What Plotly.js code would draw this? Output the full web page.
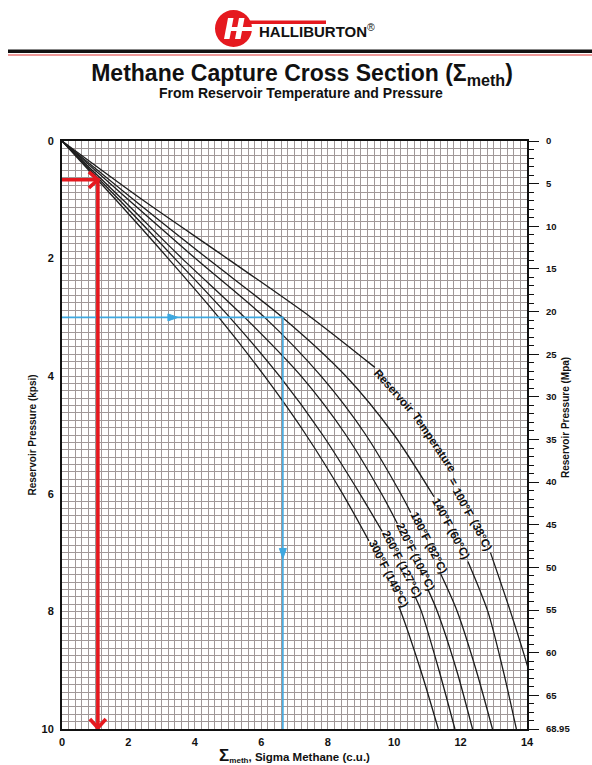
<!DOCTYPE html>
<html><head><meta charset="utf-8">
<script src="https://cdn.plot.ly/plotly-3.0.1.min.js"></script>
<style>html,body{margin:0;padding:0;background:#fff}#chart{width:592px;height:765px}</style>
</head><body><div id="chart"></div>
<script>
// ---- Data: pressure (kpsi) and Σmeth (c.u.) along each curve.
// null = the break in the curve where its label is written.
const p100 = [0, 1, 2, 3, 3.85, null, 7.0, 8, 9, 10];
const s100 = [0, 2.42, 4.98, 7.5, 9.42, null, 12.9, 13.5, 14.05, 14.5];
const p140 = [0, 1, 2, 3, 4, 5, 6.05, null, 7.15, 8, 9, 10];
const s140 = [0, 2.16, 4.38, 6.64, 8.55, 10.0, 11.2, null, 12.22, 12.82, 13.28, 13.68];
const p180 = [0, 1, 2, 3, 4, 5, 6, 6.32, null, 7.36, 8, 9, 10];
const s180 = [0, 2.0, 4.02, 6.1, 7.8, 9.15, 10.2, 10.5, null, 11.4, 11.9, 12.47, 12.96];
const p220 = [0, 1, 2, 3, 4, 5, 6, 6.51, null, 7.63, 8, 9, 10];
const s220 = [0, 1.83, 3.62, 5.5, 7.2, 8.55, 9.62, 10.1, null, 11.02, 11.3, 11.88, 12.36];
const p260 = [0, 1, 2, 3, 4, 5, 6, 6.64, null, 7.76, 8, 9, 10];
const s260 = [0, 1.72, 3.4, 5.05, 6.55, 7.85, 8.97, 9.64, null, 10.64, 10.82, 11.35, 11.83];
const p300 = [0, 1, 2, 3, 4, 5, 6, 6.8, null, 7.92, 8, 9, 10];
const s300 = [0, 1.62, 3.2, 4.72, 6.1, 7.35, 8.45, 9.24, null, 10.14, 10.2, 10.8, 11.33];

const curveLabels = ["140°F (60°C)", "180°F (82°C)", "220°F (104°C)", "260°F (127°C)", "300°F (149°C)"];
const refLabelWords = ["Reservoir", "Temperature", "=", "100°F", "(38°C)"];

// worked examples (red and blue guide lines)
const redX = [-0.12, 1.08, 1.08];
const redY = [0.66, 0.66, 10];
const blueX = [0, 6.65, 6.65];
const blueY = [3, 3, 10];
const blueArrowX = [3.49, 6.65];
const blueArrowY = [3, 7.1];

// axis ticks
const xTicks = [0, 2, 4, 6, 8, 10, 12, 14];
const kpsiTicks = [0, 2, 4, 6, 8, 10];
const mpaTicks = [0, 5, 10, 15, 20, 25, 30, 35, 40, 45, 50, 55, 60, 65, 68.95];
const mpaText = ["0","5","10","15","20","25","30","35","40","45","50","55","60","65","68.95"];

// ---- geometry helpers (page pixels -> paper coords)
const W = 592, H = 765, ML = 62, MR = 65, MT = 141, MB = 36;
const PW = W - ML - MR, PH = H - MT - MB;
const X = px => (px - ML) / PW;
const Y = py => (H - MB - py) / PH;

const FONT = "Liberation Sans, Arial, Helvetica, sans-serif";
const curveStyle = {color: "#1c1c1c", width: 1.3, shape: "spline", smoothing: 0.8};
const RED = "#e5191f", BLUE = "#3ea8e0";

const curves = [[s100,p100],[s140,p140],[s180,p180],[s220,p220],[s260,p260],[s300,p300]];
const traces = curves.map(c => ({
  x: c[0], y: c[1], type: "scatter", mode: "lines", line: curveStyle,
  connectgaps: false, hoverinfo: "skip", showlegend: false
}));
traces.push({x: blueX, y: blueY, type: "scatter", mode: "lines",
  line: {color: BLUE, width: 1.6}, hoverinfo: "skip", showlegend: false});
traces.push({x: redX, y: redY, type: "scatter", mode: "lines", cliponaxis: false,
  line: {color: RED, width: 3.6}, hoverinfo: "skip", showlegend: false});
// right-hand MPa axis
traces.push({x: [0, 0], y: [mpaTicks[0], mpaTicks[mpaTicks.length-1]], yaxis: "y2",
  type: "scatter", mode: "lines", line: {width: 0}, opacity: 0, hoverinfo: "skip", showlegend: false});

const ann = [];
const labelPos = [[11.72, 6.6, 62], [11.05, 6.84, 63], [10.66, 7.07, 64], [10.23, 7.2, 63], [9.85, 7.36, 63]];
curveLabels.forEach((t, i) => ann.push({
  x: labelPos[i][0], y: labelPos[i][1], xref: "x", yref: "y", text: "<b>" + t + "</b>",
  textangle: labelPos[i][2], showarrow: false, xanchor: "center", yanchor: "middle",
  font: {family: FONT, size: 11.5, color: "#111"}
}));
const wordPos = [[10.0, 4.26, 48], [11.2, 5.12, 56], [11.8, 5.8, 61], [12.1, 6.15, 62], [12.63, 6.7, 63]];
refLabelWords.forEach((t, i) => ann.push({
  x: wordPos[i][0], y: wordPos[i][1], xref: "x", yref: "y", text: "<b>" + t + "</b>",
  textangle: wordPos[i][2], showarrow: false, xanchor: "center", yanchor: "middle",
  font: {family: FONT, size: 11.5, color: "#111"}
}));

// right axis title, subtitle, logo text
ann.push({xref: "paper", yref: "paper", x: X(565), y: Y(418), xanchor: "center", yanchor: "middle", textangle: -90, showarrow: false,
  text: "<b>Reservoir Pressure (Mpa)</b>", font: {family: FONT, size: 10, color: "#111"}});
ann.push({xref: "paper", yref: "paper", x: X(301), y: Y(93), xanchor: "center", yanchor: "middle", showarrow: false,
  text: "<b>From Reservoir Temperature and Pressure</b>", font: {family: FONT, size: 14, color: "#111"}});
ann.push({xref: "paper", yref: "paper", x: X(257), y: Y(31), xanchor: "left", yanchor: "middle", showarrow: false,
  text: "<b>HALLIBURTON</b><sup>®</sup>", font: {family: FONT, size: 15, color: "#111"}});

const g = "#a09898";
const shapes = [
  {type: "rect", xref: "paper", yref: "paper", x0: X(8), x1: X(592), y0: Y(53), y1: Y(49.5), fillcolor: "#111", line: {width: 0}},
  {type: "line", xref: "paper", yref: "paper", x0: X(8), x1: X(592), y0: Y(55), y1: Y(55), line: {color: "#d33", width: 1}},
  {type: "rect", xref: "paper", yref: "paper", x0: X(240), x1: X(326), y0: Y(24), y1: Y(20.5), fillcolor: RED, line: {width: 0}},
  {type: "circle", xref: "paper", yref: "paper", x0: X(215), x1: X(252), y0: Y(47), y1: Y(10), fillcolor: RED, line: {width: 0}},
];
const P = (pts) => "M" + pts.map(p => X(p[0]) + "," + Y(p[1])).join("L") + "Z";
shapes.push({type: "path", xref: "paper", yref: "paper", fillcolor: "#fff", line: {width: 0},
  path: P([[224,39],[229.5,39],[233.5,18],[228,18]])});
shapes.push({type: "path", xref: "paper", yref: "paper", fillcolor: "#fff", line: {width: 0},
  path: P([[235,39],[240.5,39],[244.5,18],[239,18]])});
shapes.push({type: "path", xref: "paper", yref: "paper", fillcolor: "#fff", line: {width: 0},
  path: P([[229,31],[253,31],[253,27],[230,27]])});

// arrow heads, pixel-sized, anchored on the guide-line data points
const head = (ax, ay, path, color, filled, w) => ({
  type: "path", xref: "x", yref: "y", xsizemode: "pixel", ysizemode: "pixel",
  xanchor: ax, yanchor: ay, path: path,
  fillcolor: filled ? color : "rgba(0,0,0,0)", line: {color: color, width: w}
});
shapes.push(head(redX[1], redY[1], "M-9,8L0,0L-9,-8", RED, false, 3.6));
shapes.push(head(redX[2], redY[2], "M-8,10L0,1L8,10", RED, false, 3.6));
shapes.push(head(blueArrowX[0], blueArrowY[0], "M0,0L-10,3.5L-10,-3.5Z", BLUE, true, 1));
shapes.push(head(blueArrowX[1], blueArrowY[1], "M0,0L-3.5,10L3.5,10Z", BLUE, true, 1));

const tickFont = {family: FONT, size: 11, color: "#111", weight: "bold"};
const layout = {
  width: W, height: H, margin: {l: ML, r: MR, t: MT, b: MB, pad: 0},
  paper_bgcolor: "#fff", plot_bgcolor: "#fff", showlegend: false,
  title: {text: "<b>Methane Capture Cross Section (Σ<sub>meth</sub>)</b>", xref: "container", yref: "container",
    x: 302 / W, y: 1 - 73 / H, xanchor: "center", yanchor: "middle",
    font: {family: FONT, size: 23, color: "#111"}},
  xaxis: {range: [0, 14], tickvals: xTicks, ticks: "", showgrid: true, gridcolor: g, gridwidth: 1,
    minor: {dtick: 0.2, tick0: 0, showgrid: true, gridcolor: g, gridwidth: 1},
    showline: true, linecolor: "#111", linewidth: 2, mirror: true, zeroline: false,
    tickfont: tickFont, ticklabelstandoff: 2, fixedrange: true,
    title: {text: "<b><span style='font-size:17px'>Σ</span><sub>meth</sub>, Sigma Methane (c.u.)</b>",
      standoff: 2, font: {family: FONT, size: 11.5, color: "#111"}}},
  yaxis: {range: [10, 0], tickvals: kpsiTicks, ticks: "", showgrid: true, gridcolor: g, gridwidth: 1,
    minor: {dtick: 0.125, tick0: 0, showgrid: true, gridcolor: g, gridwidth: 1},
    showline: true, linecolor: "#111", linewidth: 2, mirror: true, zeroline: false,
    tickfont: tickFont, ticklabelstandoff: 4, fixedrange: true,
    title: {text: "<b>Reservoir Pressure (kpsi)</b>", standoff: 3, font: {family: FONT, size: 10, color: "#111"}}},
  yaxis2: {overlaying: "y", side: "right", range: [68.95, 0], tickmode: "array", tickvals: mpaTicks, ticktext: mpaText,
    ticks: "outside", ticklen: 10, tickwidth: 1, tickcolor: "#111",
    minor: {dtick: 1, tick0: 0, ticks: "outside", ticklen: 5, tickwidth: 1, tickcolor: "#111", showgrid: false},
    showgrid: false, zeroline: false, showline: true, linecolor: "#111", linewidth: 2,
    tickfont: {family: FONT, size: 9.5, color: "#111", weight: "bold"}, ticklabelstandoff: 5, fixedrange: true},
  annotations: ann, shapes: shapes
};
Plotly.newPlot("chart", traces, layout, {staticPlot: true, displayModeBar: false});
</script></body></html>
